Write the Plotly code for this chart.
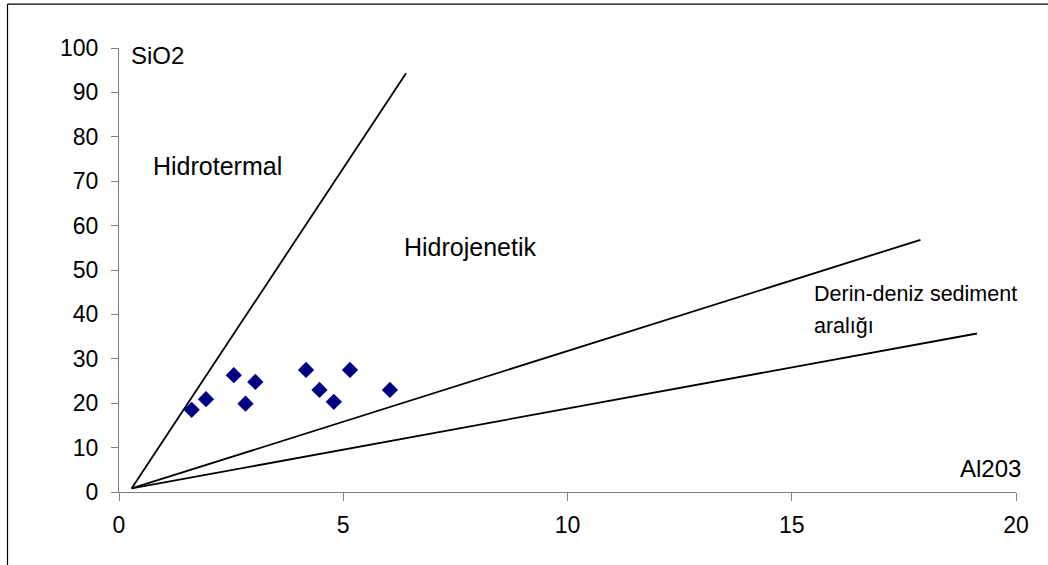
import plotly.graph_objects as go

# Sample points (Al2O3, SiO2)
al2o3 = [1.62, 1.94, 2.56, 3.04, 2.82, 4.17, 4.47, 4.79, 5.15, 6.04]
sio2 = [18.5, 20.9, 26.3, 24.8, 19.9, 27.5, 23.0, 20.3, 27.5, 23.0]

# Field boundary lines: common origin and three end points
line_origin = (0.28, 0.8)
line_ends_x = [6.40, 17.87, 19.13]
line_ends_y = [94.3, 56.8, 35.7]

x_ticks = [0, 5, 10, 15, 20]
y_ticks = [0, 10, 20, 30, 40, 50, 60, 70, 80, 90, 100]

# Labels (text, x, y, anchor, size, xshift)
labels = [
    ("SiO2", 0.22, 98.4, "left", 24, 0),
    ("Hidrotermal", 0.71, 73.5, "left", 25, 0),
    ("Hidrojenetik", 6.31, 55.1, "left", 25, 0),
    ("Derin-deniz sediment", 15.45, 44.6, "left", 21.5, 0),
    ("aralığı", 15.45, 37.4, "left", 21.5, 0),
    ("Al203", 20.0, 5.2, "right", 24, 7),
]

FONT = "Liberation Sans, Arial, sans-serif"

fig = go.Figure()

for ex, ey in zip(line_ends_x, line_ends_y):
    fig.add_trace(go.Scatter(
        x=[line_origin[0], ex], y=[line_origin[1], ey],
        mode="lines", line=dict(color="black", width=1.8),
        hoverinfo="skip", showlegend=False, cliponaxis=False,
    ))

fig.add_trace(go.Scatter(
    x=al2o3, y=sio2, mode="markers",
    marker=dict(symbol="diamond", size=12.5, color="#000080"),
    showlegend=False,
))

for text, x, y, anchor, size, xs in labels:
    fig.add_annotation(
        x=x, y=y, xref="x", yref="y", text=text, showarrow=False,
        xanchor=anchor, yanchor="middle", xshift=xs,
        font=dict(family=FONT, size=size, color="black"),
    )

# Chart-area border (top and left edges visible)
fig.add_shape(type="line", xref="paper", yref="paper",
              x0=-0.1243, x1=1.2, y0=1.099, y1=1.099,
              line=dict(color="black", width=1.2))
fig.add_shape(type="line", xref="paper", yref="paper",
              x0=-0.1243, x1=-0.1243, y0=-0.4, y1=1.099,
              line=dict(color="black", width=1.2))

fig.update_layout(
    width=1048, height=565,
    margin=dict(l=119, r=32, t=48, b=73),
    paper_bgcolor="white", plot_bgcolor="white",
    font=dict(family=FONT, size=23, color="black"),
)
fig.update_xaxes(
    range=[0, 20], tickvals=x_ticks, ticktext=[str(v) for v in x_ticks],
    showgrid=False, zeroline=False, showline=True, linecolor="#808080", linewidth=1,
    ticks="outside", ticklen=8, tickcolor="#808080", ticklabelstandoff=4,
    tickfont=dict(family=FONT, size=23, color="black"),
)
fig.update_yaxes(
    range=[0, 100], tickvals=y_ticks, ticktext=[str(v) for v in y_ticks],
    showgrid=False, zeroline=False, showline=True, linecolor="#808080", linewidth=1,
    ticks="outside", ticklen=7, tickcolor="#808080", ticklabelstandoff=8,
    tickfont=dict(family=FONT, size=23, color="black"),
)

fig.write_html("out.html")
